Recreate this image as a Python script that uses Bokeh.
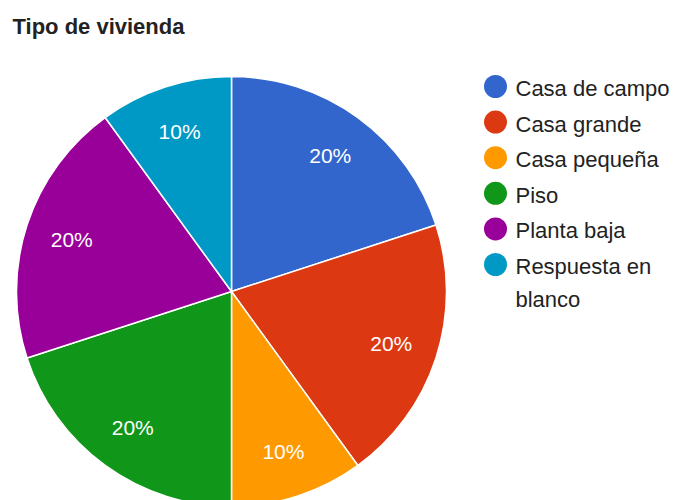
import math
from bokeh.plotting import figure
from bokeh.models import Range1d, ColumnDataSource
from bokeh.core.properties import value
from bokeh.embed import file_html
from bokeh.resources import INLINE

title_text = "Tipo de vivienda"
categories = ["Casa de campo", "Casa grande", "Casa pequeña", "Piso", "Planta baja", "Respuesta en\nblanco"]
percents = [20, 20, 10, 20, 20, 10]
colors = ["#3366cc", "#dc3912", "#ff9900", "#109618", "#990099", "#0099c6"]

W, H = 676, 500
FONT = "Liberation Sans"

p = figure(width=W, height=H, output_backend="svg", toolbar_location=None,
           x_range=Range1d(0, W), y_range=Range1d(0, H), min_border=0,
           outline_line_color=None)
p.axis.visible = False
p.grid.visible = False

cx, cy, R = 231, 209, 215
total = sum(percents)
starts, ends, lx, ly, labels = [], [], [], [], []
cum = 0
for v in percents:
    a0 = math.pi / 2 - 2 * math.pi * cum / total
    a1 = math.pi / 2 - 2 * math.pi * (cum + v) / total
    starts.append(a0)
    ends.append(a1)
    mid = (a0 + a1) / 2
    lx.append(cx + 168 * math.cos(mid))
    ly.append(cy + 168 * math.sin(mid))
    labels.append(f"{round(100 * v / total)}%")
    cum += v

src = ColumnDataSource(dict(start=starts, end=ends, color=colors))
p.wedge(x=cx, y=cy, radius=R, start_angle="start", end_angle="end", direction="clock",
        fill_color="color", line_color="white", line_width=1.5, source=src)

p.text(x=lx, y=ly, text=labels, text_color="white", text_font=value(FONT),
       text_font_size="21px", text_align="center", text_baseline="middle")

# title
p.text(x=[12], y=[474], text=[title_text], text_color="#222222", text_font=value(FONT),
       text_font_style="bold", text_font_size="22px", text_baseline="alphabetic")

# legend
n = len(categories)
lgx = [495] * n
lgy = [414 - 35.6 * i for i in range(n)]
p.scatter(x=lgx, y=lgy, size=23, marker="circle", fill_color=colors, line_color=None)
tx, ty, tt = [], [], []
for i, c in enumerate(categories):
    for j, line in enumerate(c.split("\n")):
        tx.append(515)
        ty.append(lgy[i] - 2 - 33 * j)
        tt.append(line)
p.text(x=tx, y=ty, text=tt, text_color="#222222", text_font=value(FONT),
       text_font_size="22px", text_baseline="alphabetic")

open("out.html", "w").write(file_html(p, INLINE))
